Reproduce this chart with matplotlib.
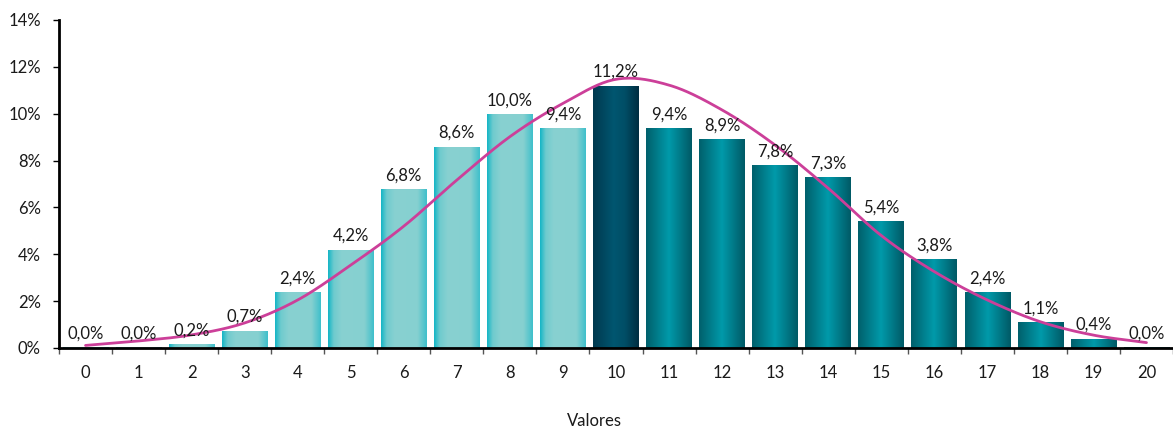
import numpy as np
import matplotlib
matplotlib.use("Agg")
import matplotlib.pyplot as plt
from matplotlib.colors import LinearSegmentedColormap

# ---------------- data ----------------
categories = [str(i) for i in range(21)]
values = [0.049, 0.049, 0.18, 0.74, 2.4, 4.2, 6.8, 8.6, 10.0, 9.4, 11.2,
          9.4, 8.9, 7.8, 7.3, 5.4, 3.8, 2.4, 1.1, 0.4, 0.04]
groups = ["light"] * 10 + ["dark"] + ["teal"] * 10
curve_values = [0.11, 0.30, 0.56, 1.07, 2.05, 3.54, 5.2, 7.17, 9.02, 10.44, 11.47,
                11.22, 10.16, 8.66, 6.82, 4.8, 3.26, 2.05, 1.12, 0.55, 0.23]
yticks = [0, 2, 4, 6, 8, 10, 12, 14]
xlabel = "Valores"

# ---------------- style ----------------
gradients = {
    "light": [(0.0, "#17B6C6"), (0.12, "#6FCBCE"), (0.3, "#88D1D1"),
              (0.8, "#86D0D0"), (1.0, "#40C0CB")],
    "dark": [(0.0, "#00394F"), (0.45, "#005670"), (0.7, "#004E66"),
             (1.0, "#002E42")],
    "teal": [(0.0, "#00606C"), (0.5, "#009AAA"), (1.0, "#005A66")],
}
curve_color = "#CC3F99"
FS = 12
plt.rcParams["font.family"] = ["Lato", "DejaVu Sans"]

W, H = 1173, 429
fig = plt.figure(figsize=(W / 100, H / 100), dpi=100)
ax = fig.add_axes([59 / W, 81 / H, (W - 59) / W, 328 / H])

x = np.arange(len(categories))
bars = ax.bar(x, values, width=0.86, color="none", edgecolor="none", zorder=2)

for b, g in zip(bars, groups):
    cmap = LinearSegmentedColormap.from_list(g, gradients[g])
    grad = np.linspace(0, 1, 64).reshape(1, -1)
    x0, w, h = b.get_x(), b.get_width(), b.get_height()
    im = ax.imshow(grad, cmap=cmap, extent=[x0, x0 + w, 0, h],
                   aspect="auto", origin="lower", zorder=2, interpolation="bilinear")
    im.set_clip_path(b)

# smoothed curve (Catmull-Rom through read points, like a smoothed Excel line)
cx = x.astype(float)
cy = np.array(curve_values, dtype=float)
px = np.concatenate([[2 * cx[0] - cx[1]], cx, [2 * cx[-1] - cx[-2]]])
py = np.concatenate([[2 * cy[0] - cy[1]], cy, [2 * cy[-1] - cy[-2]]])
sx, sy = [], []
t = np.linspace(0, 1, 20, endpoint=False)
for i in range(1, len(px) - 2):
    for arr, out in ((px, sx), (py, sy)):
        p0, p1, p2, p3 = arr[i - 1], arr[i], arr[i + 1], arr[i + 2]
        out.extend(0.5 * ((2 * p1) + (-p0 + p2) * t + (2 * p0 - 5 * p1 + 4 * p2 - p3) * t ** 2
                          + (-p0 + 3 * p1 - 3 * p2 + p3) * t ** 3))
sx.append(cx[-1]); sy.append(cy[-1])
ax.plot(sx, sy, color=curve_color, lw=2.0, zorder=4, solid_capstyle="round")

# data labels
for xi, v in zip(x, values):
    ax.annotate(f"{v:.1f}%".replace(".", ","), (xi, v), xytext=(0, 4),
                textcoords="offset points", ha="center", va="bottom",
                fontsize=FS, color="#1a1a1a", zorder=5)

ax.set_xlim(-0.5, 20.5 - (1182 - 1173) / 53.5)
ax.set_ylim(0, 14)
ax.set_yticks(yticks)
ax.set_yticklabels([f"{t}%" for t in yticks])
ax.set_xticks(x)
ax.set_xticklabels(categories)
ax.set_xticks(np.arange(-0.5, 21, 1), minor=True)
ax.tick_params(axis="x", which="major", length=0, pad=12, labelsize=FS, colors="#1a1a1a")
ax.tick_params(axis="x", which="minor", length=4, width=1, color="#555555")
ax.tick_params(axis="y", length=4, width=1, pad=9, labelsize=FS, colors="black",
               labelcolor="#1a1a1a")

for s in ["top", "right"]:
    ax.spines[s].set_visible(False)
ax.spines["left"].set_linewidth(2)
ax.spines["bottom"].set_linewidth(2)
ax.spines["bottom"].set_zorder(6)

fig.text(594 / W, 1 - 421 / H, xlabel, ha="center", va="center",
         fontsize=FS, color="#1a1a1a")

fig.savefig("out.png", dpi=100)
